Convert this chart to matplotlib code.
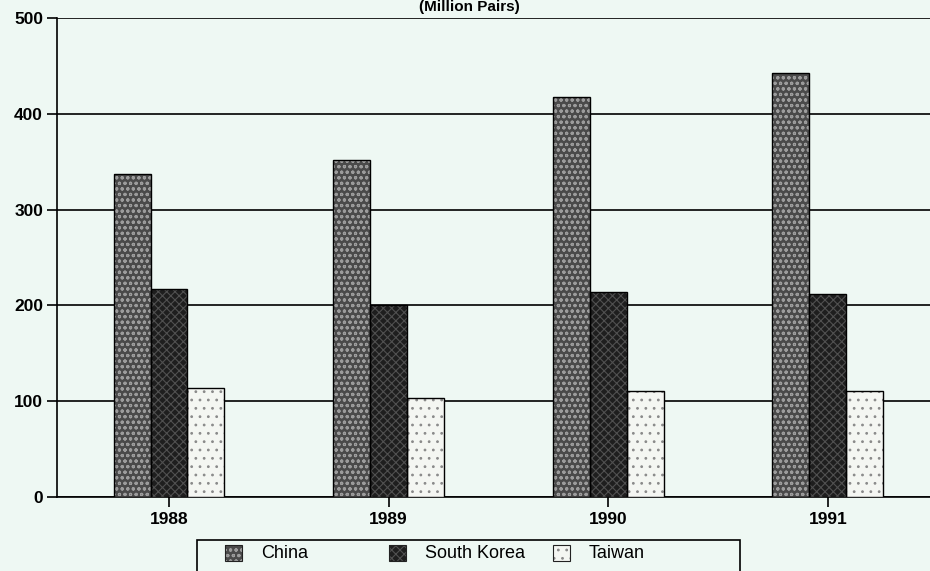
import matplotlib
matplotlib.use("Agg")
import matplotlib.pyplot as plt
import numpy as np
from matplotlib.patches import Rectangle

years = ["1988", "1989", "1990", "1991"]
china = [337, 352, 418, 443]
south_korea = [217, 200, 214, 212]
taiwan = [114, 103, 111, 111]
y_ticks = [0, 100, 200, 300, 400, 500]

series = [
    ("China", china, "#4a4a4a", "#9c9c9c", "ooo"),
    ("South Korea", south_korea, "#1e1e1e", "#505050", "xxxx"),
    ("Taiwan", taiwan, "#f4f6f2", "#8a8a8a", ".."),
]

plt.rcParams["font.family"] = ["Liberation Sans", "DejaVu Sans"]
plt.rcParams["hatch.linewidth"] = 0.8

W, H = 930, 571
bg = "#eef8f3"
fig = plt.figure(figsize=(W / 100, H / 100), dpi=100, facecolor=bg)
ax = fig.add_axes([57 / W, 1 - 497 / H, 1 - 57 / W + 0.02, (497 - 18) / H])
ax.set_facecolor(bg)

x = np.arange(len(years))
width = 0.168
for i, (name, vals, fc, hc, hatch) in enumerate(series):
    pos = x + (i - 1) * width
    ax.bar(pos, vals, width, color=fc, edgecolor=hc, hatch=hatch, linewidth=0, zorder=3)
    ax.bar(pos, vals, width, fill=False, edgecolor="black", linewidth=1.0, zorder=4)

ax.set_xlim(-0.51, 3.55)
ax.set_ylim(0, 500)
ax.set_yticks(y_ticks)
ax.set_yticklabels([str(v) for v in y_ticks], fontsize=12.5, fontweight="bold")
ax.set_xticks(x)
ax.set_xticklabels(years, fontsize=12.5, fontweight="bold")
ax.tick_params(axis="y", length=7, width=1.2, color="black", pad=3)
ax.tick_params(axis="x", length=7, width=1.2, color="black", pad=4)
ax.yaxis.grid(True, color="black", linewidth=1.2, zorder=1)
ax.set_axisbelow(True)
for s in ["top", "right"]:
    ax.spines[s].set_visible(False)
for s in ["left", "bottom"]:
    ax.spines[s].set_linewidth(1.2)
    ax.spines[s].set_color("black")
ax.spines["left"].set_zorder(5)

fig.text(0.505, 1.0, "(Million Pairs)", ha="center", va="top",
         fontsize=11, fontweight="bold")

# Legend strip along the bottom edge, drawn in pixel units
def px(xp, yp):
    return xp / W, 1 - yp / H

frame_x0, frame_x1, frame_top = 197, 740, 540
fx, fy = px(frame_x0, frame_top + 40)
fig.add_artist(Rectangle((fx, fy), (frame_x1 - frame_x0) / W, 40 / H,
                         transform=fig.transFigure, facecolor=bg,
                         edgecolor="black", linewidth=1.2))
entry_x = [225, 389, 553]
for (name, vals, fc, hc, hatch), ex in zip(series, entry_x):
    sx, sy = px(ex, 561)
    fig.add_artist(Rectangle((sx, sy), 17 / W, 16 / H, transform=fig.transFigure,
                             facecolor=fc, edgecolor=hc, hatch=hatch, linewidth=0))
    fig.add_artist(Rectangle((sx, sy), 17 / W, 16 / H, transform=fig.transFigure,
                             fill=False, edgecolor="#222222", linewidth=0.8))
    tx, ty = px(ex + 36, 553)
    fig.text(tx, ty, name, ha="left", va="center", fontsize=13)

fig.savefig("out.png", dpi=100, facecolor=bg)
